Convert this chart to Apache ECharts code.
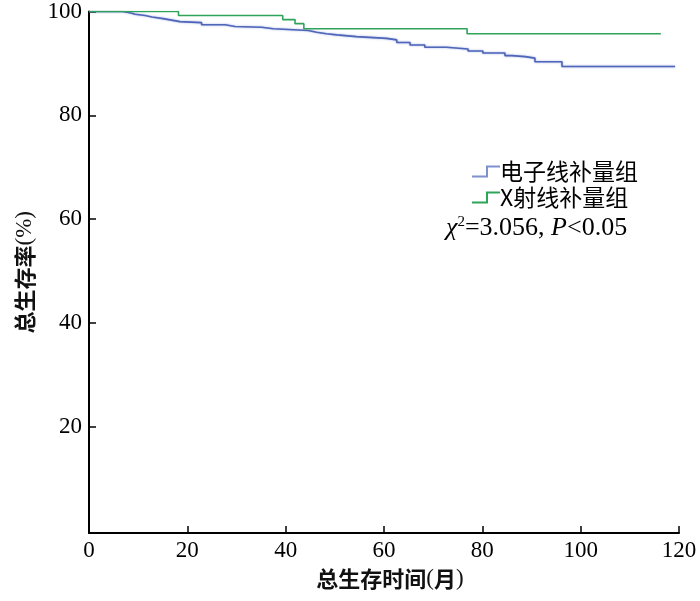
<!DOCTYPE html>
<html>
<head>
<meta charset="utf-8">
<script src="https://cdn.jsdelivr.net/npm/echarts@6/dist/echarts.min.js"></script>
<style>html,body{margin:0;padding:0;background:#fff}#c{width:700px;height:601px}</style>
</head>
<body>
<div id="c"></div>
<script>
// Series names
const seriesNames = ['电子线补量组', 'X射线补量组'];
// Electron group: step times (months) and survival (%) after each step
const electronTimes = [0, 6.9, 8.5, 9.4, 11.4, 12.8, 15.1, 16.5, 18.5, 22.9, 27.7, 29.7, 35.1, 37.5, 44.6, 46.3, 48.3, 50.4, 54.4, 60.5, 62.6, 65.3, 68.3, 72.7, 77.1, 80.1, 84.6, 86.0, 88.7, 90.7, 96.2, 119.2];
const electronValues = [100, 99.71, 99.46, 99.22, 98.93, 98.63, 98.39, 98.05, 97.85, 97.46, 97.12, 96.97, 96.68, 96.34, 95.99, 95.70, 95.50, 95.16, 94.82, 94.53, 94.04, 93.55, 93.11, 92.77, 92.38, 91.99, 91.50, 91.30, 91.01, 90.33, 89.40, 89.40];
// X-ray group
const xrayTimes = [0, 18.2, 39.4, 41.9, 43.7, 76.9, 116.3];
const xrayValues = [100, 99.22, 98.44, 97.66, 96.68, 95.70, 95.70];
// Axis ticks
const xTicks = [0, 20, 40, 60, 80, 100, 120];
const yTicks = [20, 40, 60, 80, 100];
const xTitle = ['总生存时间', '(', '月', ')'];
const yTitle = ['总生存率', '(%)'];
const statText = ['χ', '2', '=3.056, ', 'P', '<0.05'];

const blue = '#4f66b8';
const green = '#2ea35a';
const serif = '"Liberation Serif", "DejaVu Serif", serif';
const cjk = '"Noto Sans CJK SC", sans-serif';

const zip = (a, b) => a.map((t, i) => [t, b[i]]);

const titleRich = {
  c: {fontFamily: cjk, fontSize: 22, fontWeight: 'bold', color: '#111'},
  p: {fontFamily: serif, fontSize: 23, color: '#111'}
};

const chart = echarts.init(document.getElementById('c'), null, {renderer: 'canvas'});
chart.setOption({
  animation: false,
  backgroundColor: '#fff',
  grid: {left: 89, right: 21, top: 11, bottom: 68, containLabel: false},
  xAxis: {
    type: 'value', min: 0, max: 120, interval: 20,
    name: '{c|' + xTitle[0] + '}{p|' + xTitle[1] + '}{c|' + xTitle[2] + '}{p|' + xTitle[3] + '}',
    nameLocation: 'middle', nameGap: 34,
    nameTextStyle: {rich: titleRich, padding: [0, 0, 0, 12]},
    axisLine: {show: true, onZero: false, lineStyle: {color: '#000', width: 2}},
    axisTick: {show: true, inside: true, length: 7, lineStyle: {color: '#000', width: 1.5}, customValues: xTicks},
    axisLabel: {fontFamily: serif, fontSize: 23, color: '#000', margin: 6, customValues: xTicks},
    splitLine: {show: false}
  },
  yAxis: {
    type: 'value', min: -0.5, max: 100,
    name: '{c|' + yTitle[0] + '}{p|' + yTitle[1] + '}', nameLocation: 'middle', nameGap: 48, nameRotate: 90,
    nameTextStyle: {rich: titleRich},
    axisLine: {show: true, onZero: false, lineStyle: {color: '#000', width: 2}},
    axisTick: {show: true, inside: true, length: 7, lineStyle: {color: '#000', width: 1.5}, customValues: yTicks},
    axisLabel: {fontFamily: serif, fontSize: 23, color: '#000', margin: 7, customValues: yTicks},
    splitLine: {show: false}
  },
  legend: {
    orient: 'vertical', left: 466, top: 155, itemGap: 3,
    itemWidth: 28, itemHeight: 10,
    textStyle: {fontFamily: cjk, fontSize: 23, color: '#000', padding: [0, 0, 0, -5]},
    data: [
      {name: seriesNames[0], icon: 'path://M0,10 L15,10 L15,0 L28,0', itemStyle: {color: 'transparent', borderColor: '#7f90cf', borderWidth: 2}},
      {name: seriesNames[1], icon: 'path://M0,10 L15,10 L15,0 L28,0', itemStyle: {color: 'transparent', borderColor: green, borderWidth: 2}}
    ]
  },
  graphic: [{
    type: 'text', left: 446, top: 215,
    style: {
      text: '{i|' + statText[0] + '}{s|' + statText[1] + '}{n|' + statText[2] + '}{i|' + statText[3] + '}{n|' + statText[4] + '}',
      rich: {
        i: {fontFamily: serif, fontStyle: 'italic', fontSize: 26, fill: '#000'},
        s: {fontFamily: serif, fontSize: 15, fill: '#000', verticalAlign: 'top', padding: [0, 0, 11, 0]},
        n: {fontFamily: serif, fontSize: 26, fill: '#000'}
      }
    }
  }],
  series: [
    {
      name: seriesNames[0], type: 'line', step: 'end', showSymbol: false, symbol: 'none',
      data: zip(electronTimes, electronValues),
      lineStyle: {color: blue, width: 1.6, shadowColor: 'rgba(110,130,210,0.7)', shadowBlur: 2},
      itemStyle: {color: blue}, z: 2
    },
    {
      name: seriesNames[1], type: 'line', step: 'end', showSymbol: false, symbol: 'none',
      data: zip(xrayTimes, xrayValues),
      lineStyle: {color: green, width: 1.6},
      itemStyle: {color: green}, z: 3
    }
  ]
});
</script>
</body>
</html>
